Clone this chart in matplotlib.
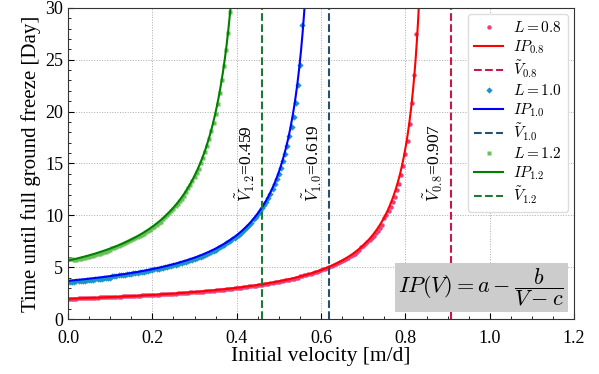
import numpy as np
import matplotlib
matplotlib.use("Agg")
import matplotlib.pyplot as plt
from matplotlib.ticker import MultipleLocator

plt.rcParams['font.family'] = ['Liberation Serif', 'DejaVu Serif']
plt.rcParams['mathtext.fontset'] = 'cm'

# simulated points, initial velocity step 0.005 m/d
step = 0.005

ip_08 = [1.9, 1.9, 1.9, 1.9, 1.9, 2.0, 2.0, 2.0, 2.0, 2.0,
         2.0, 2.0, 2.0, 2.0, 2.0, 2.1, 2.1, 2.1, 2.1, 2.1,
         2.1, 2.1, 2.1, 2.1, 2.1, 2.1, 2.2, 2.2, 2.2, 2.2,
         2.2, 2.2, 2.2, 2.2, 2.2, 2.3, 2.3, 2.3, 2.3, 2.3,
         2.3, 2.3, 2.3, 2.3, 2.4, 2.4, 2.4, 2.4, 2.4, 2.4,
         2.4, 2.4, 2.5, 2.5, 2.5, 2.5, 2.5, 2.5, 2.6, 2.6,
         2.6, 2.6, 2.6, 2.6, 2.6, 2.7, 2.7, 2.7, 2.7, 2.7,
         2.8, 2.8, 2.8, 2.8, 2.8, 2.9, 2.9, 2.9, 2.9, 3.0,
         3.0, 3.0, 3.0, 3.1, 3.1, 3.1, 3.2, 3.2, 3.2, 3.2,
         3.3, 3.3, 3.3, 3.4, 3.4, 3.4, 3.5, 3.5, 3.6, 3.6,
         3.6, 3.7, 3.7, 3.8, 3.8, 3.8, 3.9, 3.9, 4.0, 4.0,
         4.1, 4.1, 4.2, 4.2, 4.3, 4.3, 4.4, 4.5, 4.5, 4.6,
         4.7, 4.8, 4.8, 4.9, 5.0, 5.1, 5.2, 5.3, 5.4, 5.5,
         5.6, 5.7, 5.8, 5.9, 6.1, 6.2, 6.3, 6.5, 6.7, 6.9,
         7.0, 7.2, 7.4, 7.6, 7.8, 8.0, 8.3, 8.5, 8.8, 9.1,
         9.7, 10.0, 10.4, 10.8, 11.3, 11.8, 12.4, 13.0, 13.9, 14.8,
         15.9, 17.2, 18.8, 20.8, 23.5, 27.5]

ip_10 = [3.6, 3.6, 3.6, 3.6, 3.7, 3.7, 3.7, 3.7, 3.7, 3.8,
         3.8, 3.8, 3.8, 3.9, 3.9, 3.9, 3.9, 4.0, 4.0, 4.0,
         4.0, 4.1, 4.1, 4.1, 4.2, 4.2, 4.2, 4.2, 4.3, 4.3,
         4.3, 4.4, 4.4, 4.4, 4.5, 4.5, 4.5, 4.6, 4.6, 4.7,
         4.7, 4.8, 4.8, 4.8, 4.9, 4.9, 5.0, 5.0, 5.1, 5.1,
         5.2, 5.2, 5.3, 5.4, 5.4, 5.5, 5.5, 5.6, 5.7, 5.7,
         5.8, 5.9, 6.0, 6.0, 6.1, 6.2, 6.3, 6.4, 6.5, 6.6,
         6.7, 6.8, 6.9, 7.0, 7.1, 7.3, 7.4, 7.5, 7.7, 7.8,
         8.0, 8.1, 8.3, 8.5, 8.7, 8.9, 9.1, 9.3, 9.6, 9.8,
         10.1, 10.4, 10.7, 11.0, 11.3, 11.7, 12.1, 12.5, 13.0, 13.5,
         14.0, 14.6, 15.2, 15.9, 16.7, 17.6, 18.5, 19.5, 20.8, 22.6,
         24.5, 28.3]

ip_12 = [5.8, 5.8, 5.8, 5.7, 5.7, 5.8, 5.8, 5.9, 5.9, 6.0,
         6.0, 6.1, 6.1, 6.2, 6.3, 6.3, 6.4, 6.5, 6.5, 6.6,
         6.7, 6.8, 6.8, 6.9, 7.0, 7.1, 7.2, 7.3, 7.4, 7.5,
         7.6, 7.7, 7.8, 7.9, 8.0, 8.1, 8.2, 8.4, 8.5, 8.6,
         8.8, 8.9, 9.1, 9.3, 9.4, 9.6, 9.8, 10.0, 10.2, 10.4,
         10.6, 10.9, 11.1, 11.4, 11.6, 11.9, 12.2, 12.6, 12.9, 13.3,
         13.7, 14.1, 14.5, 15.0, 15.5, 16.1, 16.7, 17.4, 18.1, 18.9,
         19.8, 20.7, 21.8, 23.0, 24.4, 25.9, 27.6, 29.6]

# fitted parameters of IP(V) = a - b / (V - c)
fit_a = [0.708, 1.37, 1.54]
fit_b = [1.079, 1.41, 1.84]
fit_c = [0.8685, 0.61, 0.45]

# critical velocities
v_tilde = [0.907, 0.619, 0.459]
L_values = ['0.8', '1.0', '1.2']

point_colors = ['#e8407a', '#1a93c9', '#6abf5b']
point_markers = ['o', 'D', 's']
line_colors = ['#ff0000', '#0000ff', '#008000']
dash_colors = ['#c8174a', '#274f6e', '#1e7a32']

fig = plt.figure(figsize=(5.99, 3.74), dpi=100)
ax = fig.add_axes([0.1135, 0.147, 0.845, 0.832])

for i, ip in enumerate([ip_08, ip_10, ip_12]):
    ip = np.array(ip)
    v = np.arange(len(ip)) * step
    ax.plot(v, ip, linestyle='none', marker=point_markers[i], ms=3.2,
            color=point_colors[i], mec='none', label=rf'$L={L_values[i]}$')

    vv = np.linspace(0, fit_c[i] - 0.001, 600)
    yy = fit_a[i] - fit_b[i] / (vv - fit_c[i])
    ax.plot(vv, yy, color=line_colors[i], lw=1.5,
            label=rf'$IP_{{{L_values[i]}}}$')

    ax.axvline(v_tilde[i], color=dash_colors[i], ls='--', lw=1.5,
               label=rf'$\tilde{{V}}_{{{L_values[i]}}}$')
    ax.text(v_tilde[i] - 0.012, 15, rf'$\tilde{{V}}_{{{L_values[i]}}}$={v_tilde[i]:.3f}',
            rotation=90, ha='right', va='center', fontsize=12.5)

ax.set_xlim(0, 1.2)
ax.set_ylim(0, 30)
ax.xaxis.set_major_locator(MultipleLocator(0.2))
ax.xaxis.set_minor_locator(MultipleLocator(0.05))
ax.yaxis.set_major_locator(MultipleLocator(5))
ax.yaxis.set_minor_locator(MultipleLocator(1))
ax.tick_params(which='both', direction='in', labelsize=13)
ax.tick_params(axis='x', which='major', pad=8)
ax.tick_params(which='major', length=4)
ax.tick_params(which='minor', length=2.5)
ax.grid(True, which='major', ls=':', color='#aaaaaa', lw=0.7)
for s in ax.spines.values():
    s.set_color('#333333')

ax.set_xlabel('Initial velocity [m/d]', fontsize=15.5, labelpad=0)
ax.set_ylabel('Time until full ground freeze [Day]', fontsize=15, labelpad=3)

ax.text(0.98, 0.035, r'$IP(V) = a - \dfrac{b}{V-c}$', transform=ax.transAxes,
        ha='right', va='bottom', fontsize=16,
        bbox=dict(facecolor='#cccccc', edgecolor='none', pad=2.5))

ax.legend(loc='upper right', fontsize=11, labelspacing=0.2, handlelength=1.85,
          handletextpad=0.7, markerscale=1.0, borderpad=0.4, framealpha=1,
          edgecolor='#dddddd', borderaxespad=0.4)

fig.savefig('out.png', dpi=100)
